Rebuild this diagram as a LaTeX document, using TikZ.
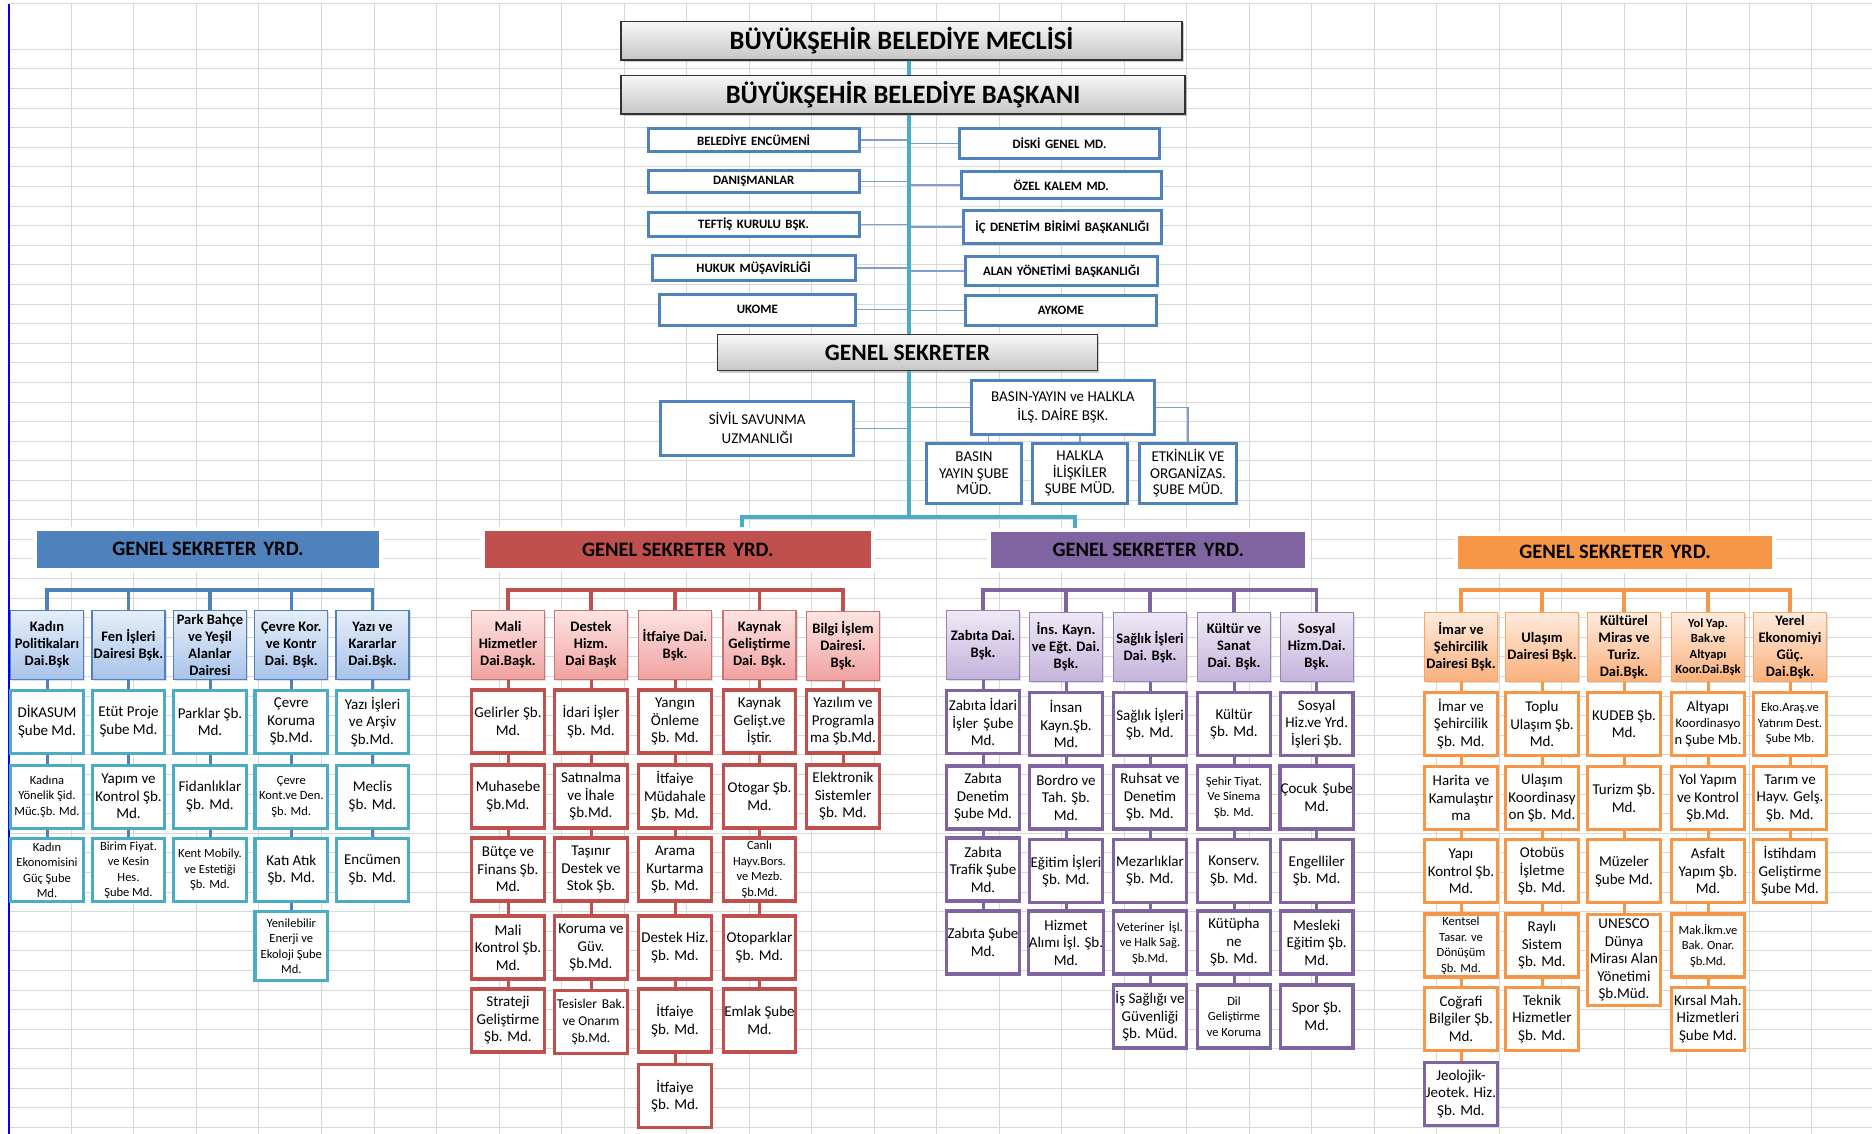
\documentclass[tikz,border=0pt]{standalone}
\usepackage{fontspec}
\setmainfont{Carlito}
\usetikzlibrary{shadows,calc}
\definecolor{cBlue}{HTML}{4F81BD}
\definecolor{cTeal}{HTML}{4BACC6}
\definecolor{cRed}{HTML}{C0504D}
\definecolor{cPur}{HTML}{8064A2}
\definecolor{cOra}{HTML}{F79646}
\definecolor{gridc}{HTML}{D8D8D8}
\definecolor{bTop}{HTML}{E6EEF8}
\definecolor{bBot}{HTML}{A8C3EA}
\definecolor{rTop}{HTML}{FCE4E3}
\definecolor{rBot}{HTML}{F0A2A0}
\definecolor{pTop}{HTML}{EEEAF4}
\definecolor{pBot}{HTML}{C4B2DC}
\definecolor{oTop}{HTML}{FEECDF}
\definecolor{oBot}{HTML}{FAB07C}
\newcommand{\myds}{\hspace{0.35em}}
\begin{document}
\begin{tikzpicture}[x=1pt,y=-1pt,
  gridln/.style={draw=gridc, line width=1pt},
  graybox/.style={draw=black!80, line width=1.3pt, top color=gray!6, bottom color=gray!45, inner sep=0pt, drop shadow={opacity=0.4,shadow xshift=1.5pt,shadow yshift=-2pt}, font=\bfseries\fontsize{26.5}{30}\selectfont},
  topbox/.style={draw=cBlue, line width=3pt, fill=white, inner sep=0pt, font=\bfseries\fontsize{12.8}{14}\selectfont},
  gsbox/.style={draw=cBlue, line width=3pt, fill=white, inner sep=0pt, align=center, font=\fontsize{15}{19}\selectfont},
  gssub/.style={gsbox, minimum height=60pt, font=\fontsize{15}{16.5}\selectfont},
  thinln/.style={draw=cBlue!75, line width=1.1pt},
  trunk/.style={draw=cTeal, line width=4pt},
  hdrbox/.style={fill=#1, draw=white, line width=4pt, inner sep=0pt, font=\bfseries\fontsize{20.5}{22}\selectfont, drop shadow={opacity=0.3,shadow xshift=1pt,shadow yshift=-2pt}},
  headbox/.style n args={3}{draw=#1, line width=1.2pt, top color=#2, bottom color=#3, minimum width=73pt, minimum height=69pt, inner sep=0.5pt, align=center, font=\bfseries\fontsize{14.5}{17}\selectfont, drop shadow={opacity=0.25,shadow xshift=1.5pt,shadow yshift=-1.5pt}},
  bhd/.style={headbox={cBlue}{bTop}{bBot}},
  rhd/.style={headbox={cRed!80}{rTop}{rBot}},
  phd/.style={headbox={cPur!80}{pTop}{pBot}},
  ohd/.style={headbox={cOra!85}{oTop}{oBot}},
  subbox/.style={draw=#1, line width=3.2pt, fill=white, minimum width=72.5pt, minimum height=63pt, inner sep=0.5pt, align=center, font=\fontsize{15}{17.5}\selectfont},
  smalltxt/.style={font=\fontsize{12.5}{15.5}\selectfont},
  brk/.style={draw=#1, line width=3.2pt},
  conn/.style={draw=#1, line width=3pt},
]
\fill[white] (0,0) rectangle (1872,1134);
\useasboundingbox (0,0) rectangle (1872,1134);
% spreadsheet grid
\foreach \x in {71.4,133.8,196.2,258.6,321} \draw[gridln] (\x,4) -- (\x,1134);
\foreach \j in {0,...,24} \draw[gridln] ({374+62.5*\j},4) -- ({374+62.5*\j},1134);
\foreach \k in {0,...,55} \draw[gridln] (9,{49.3+19.6*\k}) -- (1872,{49.3+19.6*\k});
\draw[gridln] (9,4) -- (1872,4);
\draw[blue, line width=2.5pt] (9,4) -- (9,1134);

% coordinates
\coordinate (tx) at (908.5,0);
\coordinate (tj) at (908.5,517);
\coordinate (lj) at (742,517);
\coordinate (rj) at (1075,517);
\coordinate (brkY) at (0,590);

% top
\node[graybox, minimum width=561pt, minimum height=38.5pt] (meclis) at (901.5,40.7) {BÜYÜKŞEHİR BELEDİYE MECLİSİ};
\node[graybox, minimum width=564pt, minimum height=38.5pt] (baskan) at (903,94.7) {BÜYÜKŞEHİR BELEDİYE BAŞKANI};
\node[graybox, minimum width=380pt, minimum height=36pt, font=\bfseries\fontsize{23.5}{26}\selectfont] (gs) at (907.4,352.8) {GENEL SEKRETER};

\node[topbox, minimum width=210.8pt, minimum height=23.6pt] (enc) at (753.6,140) {BELEDİYE\myds ENCÜMENİ};
\node[topbox, minimum width=210.8pt, minimum height=22pt] (dan) at (753.6,181.5) {DANIŞMANLAR};
\node[topbox, minimum width=210.8pt, minimum height=24.3pt] (tef) at (753.6,224.3) {TEFTİŞ\myds KURULU\myds BŞK.};
\node[topbox, minimum width=203pt, minimum height=25pt] (huk) at (753.6,268) {HUKUK\myds MÜŞAVİRLİĞİ};
\node[topbox, minimum width=195.7pt, minimum height=30.7pt] (uko) at (757.3,309.8) {UKOME};
\node[topbox, minimum width=200pt, minimum height=30.3pt] (dis) at (1059.5,143.3) {DİSKİ\myds GENEL\myds MD.};
\node[topbox, minimum width=199.5pt, minimum height=27pt] (oze) at (1061.3,185) {ÖZEL\myds KALEM\myds MD.};
\node[topbox, minimum width=197.5pt, minimum height=33pt] (icd) at (1062.3,227) {İÇ\myds DENETİM\myds BİRİMİ\myds BAŞKANLIĞI};
\node[topbox, minimum width=191.6pt, minimum height=29pt] (ala) at (1061.3,271) {ALAN\myds YÖNETİMİ\myds BAŞKANLIĞI};
\node[topbox, minimum width=190.5pt, minimum height=29.7pt] (ayk) at (1060.8,310.3) {AYKOME};

\node[gsbox, minimum width=193.4pt, minimum height=53.7pt] (siv) at (757.2,428.3) {SİVİL SAVUNMA\\UZMANLIĞI};
\node[gsbox, minimum width=182.8pt, minimum height=53.7pt] (basin) at (1062.9,407.7) {BASIN-YAYIN ve HALKLA\\İLŞ. DAİRE BŞK.};
\node[gssub, minimum width=94.2pt] (bys) at (974,473.5) {BASIN\\YAYIN ŞUBE\\MÜD.};
\node[gssub, minimum width=95pt] (hal) at (1080,473.5) {HALKLA\\İLİŞKİLER\\ŞUBE MÜD.};
\node[gssub, minimum width=97pt] (etk) at (1188,473.5) {ETKİNLİK VE\\ORGANİZAS.\\ŞUBE MÜD.};

% thin connectors
\foreach \n in {enc,dan,tef,huk,uko} \draw[thinln] (\n.east) -- (\n.east -| tx);
\foreach \n in {dis,oze,icd,ala,ayk} \draw[thinln] (\n.west) -- (\n.west -| tx);
\draw[thinln] (siv.east) -- (siv.east -| tx);
\draw[thinln] (basin.west) -- (basin.west -| tx);
\coordinate (bysc) at ($(bys.north)+(14.6,0)$);
\draw[thinln] (bysc) -- (bysc |- basin.south);
\draw[thinln] (hal.north) -- (hal.north |- basin.south);
\draw[thinln] (basin.east) -| (etk.north);

% group headers
\node[hdrbox=cBlue, minimum width=345.4pt, minimum height=40.7pt] (bhdr) at (208,549.3) {GENEL SEKRETER\myds YRD.};
\node[hdrbox=cRed, minimum width=390.3pt, minimum height=40.4pt] (rhdr) at (677.8,549.5) {GENEL SEKRETER\myds YRD.};
\node[hdrbox=cPur, minimum width=318pt, minimum height=39.4pt] (phdr) at (1148.3,550) {GENEL SEKRETER\myds YRD.};
\node[hdrbox=cOra, minimum width=317.4pt, minimum height=37pt] (ohdr) at (1615,552.2) {GENEL SEKRETER\myds YRD.};

% trunk
\draw[trunk] (meclis.south -| tx) -- (baskan.north -| tx);
\draw[trunk] (baskan.south -| tx) -- (gs.north -| tx);
\draw[trunk] (gs.south -| tx) -- (tj);
\draw[trunk] (rhdr.north -| lj) -- (lj) -- (rj) -- (phdr.north -| rj);

% ===== BLUE GROUP =====
\node[bhd] (bh1) at (47,645) {Kadın\\Politikaları\\Dai.Bşk};
\node[bhd] (bh2) at (128.5,645) {Fen İşleri\\Dairesi Bşk.};
\node[bhd] (bh3) at (210,645) {Park Bahçe\\ve Yeşil\\Alanlar\\Dairesi};
\node[bhd] (bh4) at (291.3,645) {Çevre Kor.\\ve Kontr\\Dai. Bşk.};
\node[bhd] (bh5) at (372.5,645) {Yazı ve\\Kararlar\\Dai.Bşk.};

\node[subbox=cTeal] (b11) at (47,721.7) {DİKASUM\\Şube Md.};
\node[subbox=cTeal, smalltxt] (b12) at (47,796.7) {Kadına\\Yönelik Şid.\\Müc.Şb. Md.};
\node[subbox=cTeal, smalltxt] (b13) at (47,870) {Kadın\\Ekonomisini\\Güç Şube\\Md.};
\node[subbox=cTeal] (b21) at (128.5,721.7) {Etüt Proje\\Şube Md.};
\node[subbox=cTeal] (b22) at (128.5,796.7) {Yapım ve\\Kontrol Şb.\\Md.};
\node[subbox=cTeal, smalltxt] (b23) at (128.5,870) {Birim Fiyat.\\ve Kesin\\Hes.\\Şube Md.};
\node[subbox=cTeal] (b31) at (210,721.7) {Parklar Şb.\\Md.};
\node[subbox=cTeal] (b32) at (210,796.7) {Fidanlıklar\\Şb. Md.};
\node[subbox=cTeal, smalltxt] (b33) at (210,870) {Kent Mobily.\\ve Estetiği\\Şb. Md.};
\node[subbox=cTeal] (b41) at (291.3,721.7) {Çevre\\Koruma\\Şb.Md.};
\node[subbox=cTeal, smalltxt] (b42) at (291.3,796.7) {Çevre\\Kont.ve Den.\\Şb. Md.};
\node[subbox=cTeal] (b43) at (291.3,870) {Katı Atık\\Şb. Md.};
\node[subbox=cTeal, smalltxt, minimum height=69pt] (b44) at (291.3,946.3) {Yenilebilir\\Enerji ve\\Ekoloji Şube\\Md.};
\node[subbox=cTeal] (b51) at (372.5,721.7) {Yazı İşleri\\ve Arşiv\\Şb.Md.};
\node[subbox=cTeal] (b52) at (372.5,796.7) {Meclis\\Şb. Md.};
\node[subbox=cTeal] (b53) at (372.5,870) {Encümen\\Şb. Md.};

\draw[brk=cBlue] (bh1.north) -- (bh1.north |- brkY) -- (bh5.north |- brkY) -- (bh5.north);
\foreach \n in {bh2,bh3,bh4} \draw[brk=cBlue] (\n.north) -- (\n.north |- brkY);
\draw[conn=cBlue] (bh1) -- (b11) -- (b12) -- (b13);
\draw[conn=cBlue] (bh2) -- (b21) -- (b22) -- (b23);
\draw[conn=cBlue] (bh3) -- (b31) -- (b32) -- (b33);
\draw[conn=cBlue] (bh4) -- (b41) -- (b42) -- (b43) -- (b44);
\draw[conn=cBlue] (bh5) -- (b51) -- (b52) -- (b53);

% ===== RED GROUP =====
\node[rhd] (rh1) at (508,645) {Mali\\Hizmetler\\Dai.Başk.};
\node[rhd] (rh2) at (591,645) {Destek\\Hizm.\\Dai Başk};
\node[rhd] (rh3) at (675,645) {İtfaiye Dai.\\Bşk.};
\node[rhd] (rh4) at (759.5,645) {Kaynak\\Geliştirme\\Dai. Bşk.};
\node[rhd] (rh5) at (843,646) {Bilgi İşlem\\Dairesi.\\Bşk.};

\node[subbox=cRed] (r11) at (508,721.5) {Gelirler Şb.\\Md.};
\node[subbox=cRed] (r12) at (508,796.5) {Muhasebe\\Şb.Md.};
\node[subbox=cRed] (r13) at (508,869.5) {Bütçe ve\\Finans Şb.\\Md.};
\node[subbox=cRed] (r14) at (508,947.5) {Mali\\Kontrol Şb.\\Md.};
\node[subbox=cRed] (r15) at (508,1020.5) {Strateji\\Geliştirme\\Şb. Md.};
\node[subbox=cRed] (r21) at (591,721.5) {İdari İşler\\Şb. Md.};
\node[subbox=cRed] (r22) at (591,796.5) {Satınalma\\ve İhale\\Şb.Md.};
\node[subbox=cRed] (r23) at (591,869.5) {Taşınır\\Destek ve\\Stok Şb.};
\node[subbox=cRed] (r24) at (591,947.5) {Koruma ve\\Güv.\\Şb.Md.};
\node[subbox=cRed, font=\fontsize{13.5}{17}\selectfont] (r25) at (591,1022) {Tesisler\myds Bak.\\ve Onarım\\Şb.Md.};
\node[subbox=cRed] (r31) at (675,721.5) {Yangın\\Önleme\\Şb. Md.};
\node[subbox=cRed] (r32) at (675,796.5) {İtfaiye\\Müdahale\\Şb. Md.};
\node[subbox=cRed] (r33) at (675,869.5) {Arama\\Kurtarma\\Şb. Md.};
\node[subbox=cRed] (r34) at (675,947.5) {Destek Hiz.\\Şb. Md.};
\node[subbox=cRed] (r35) at (675,1020.5) {İtfaiye\\Şb. Md.};
\node[subbox=cRed] (r36) at (675,1096) {İtfaiye\\Şb. Md.};
\node[subbox=cRed] (r41) at (759.5,721.5) {Kaynak\\Gelişt.ve\\İştir.};
\node[subbox=cRed] (r42) at (759.5,796.5) {Otogar Şb.\\Md.};
\node[subbox=cRed, smalltxt] (r43) at (759.5,869.5) {Canlı\\Hayv.Bors.\\ve Mezb.\\Şb.Md.};
\node[subbox=cRed] (r44) at (759.5,947.5) {Otoparklar\\Şb. Md.};
\node[subbox=cRed] (r45) at (759.5,1020.5) {Emlak Şube\\Md.};
\node[subbox=cRed] (r51) at (843,721.5) {Yazılım ve\\Programla\\ma Şb.Md.};
\node[subbox=cRed] (r52) at (843,796.5) {Elektronik\\Sistemler\\Şb. Md.};

\draw[brk=cRed] (rh1.north) -- (rh1.north |- brkY) -- (rh5.north |- brkY) -- (rh5.north);
\foreach \n in {rh2,rh3,rh4} \draw[brk=cRed] (\n.north) -- (\n.north |- brkY);
\draw[conn=cRed] (rh1) -- (r11) -- (r12) -- (r13) -- (r14) -- (r15);
\draw[conn=cRed] (rh2) -- (r21) -- (r22) -- (r23) -- (r24) -- (r25);
\draw[conn=cRed] (rh3) -- (r31) -- (r32) -- (r33) -- (r34) -- (r35) -- (r36);
\draw[conn=cRed] (rh4) -- (r41) -- (r42) -- (r43) -- (r44) -- (r45);
\draw[conn=cRed] (rh5) -- (r51) -- (r52);

% ===== PURPLE GROUP =====
\node[phd] (ph1) at (983,645) {Zabıta Dai.\\Bşk.};
\node[phd] (ph2) at (1066,647) {İns. Kayn.\\ve Eğt. Dai.\\Bşk.};
\node[phd] (ph3) at (1150,647) {Sağlık İşleri\\Dai. Bşk.};
\node[phd] (ph4) at (1234,647) {Kültür ve\\Sanat\\Dai. Bşk.};
\node[phd] (ph5) at (1316.7,647) {Sosyal\\Hizm.Dai.\\Bşk.};

\node[subbox=cPur] (p11) at (983,722) {Zabıta İdari\\İşler\myds Şube\\Md.};
\node[subbox=cPur] (p12) at (983,797.5) {Zabıta\\Denetim\\Şube Md.};
\node[subbox=cPur] (p13) at (983,869.5) {Zabıta\\Trafik Şube\\Md.};
\node[subbox=cPur] (p14) at (983,942.5) {Zabıta Şube\\Md.};
\node[subbox=cPur] (p21) at (1066,724) {İnsan\\Kayn.Şb.\\Md.};
\node[subbox=cPur] (p22) at (1066,797.5) {Bordro ve\\Tah. Şb.\\Md.};
\node[subbox=cPur] (p23) at (1066,871) {Eğitim İşleri\\Şb. Md.};
\node[subbox=cPur] (p24) at (1066,942.5) {Hizmet\\Alımı İşl. Şb.\\Md.};
\node[subbox=cPur] (p31) at (1150,724) {Sağlık İşleri\\Şb. Md.};
\node[subbox=cPur] (p32) at (1150,797.5) {Ruhsat ve\\Denetim\\Şb. Md.};
\node[subbox=cPur] (p33) at (1150,871) {Mezarlıklar\\Şb. Md.};
\node[subbox=cPur, smalltxt] (p34) at (1150,942.5) {Veteriner\myds İşl.\\ve Halk Sağ.\\Şb.Md.};
\node[subbox=cPur] (p35) at (1150,1016.5) {İş Sağlığı ve\\Güvenliği\\Şb. Müd.};
\node[subbox=cPur] (p41) at (1234,724) {Kültür\\Şb. Md.};
\node[subbox=cPur, smalltxt] (p42) at (1234,797.5) {Şehir Tiyat.\\Ve Sinema\\Şb. Md.};
\node[subbox=cPur] (p43) at (1234,871) {Konserv.\\Şb. Md.};
\node[subbox=cPur] (p44) at (1234,942.5) {Kütüpha\\ne\\Şb. Md.};
\node[subbox=cPur, smalltxt] (p45) at (1234,1016.5) {Dil\\Geliştirme\\ve Koruma};
\node[subbox=cPur] (p51) at (1316.7,724) {Sosyal\\Hiz.ve Yrd.\\İşleri Şb.};
\node[subbox=cPur] (p52) at (1316.7,797.5) {Çocuk\myds Şube\\Md.};
\node[subbox=cPur] (p53) at (1316.7,871) {Engelliler\\Şb. Md.};
\node[subbox=cPur] (p54) at (1316.7,942.5) {Mesleki\\Eğitim Şb.\\Md.};
\node[subbox=cPur] (p55) at (1316.7,1016.5) {Spor Şb.\\Md.};

\draw[brk=cPur] (ph1.north) -- (ph1.north |- brkY) -- (ph5.north |- brkY) -- (ph5.north);
\foreach \n in {ph2,ph3,ph4} \draw[brk=cPur] (\n.north) -- (\n.north |- brkY);
\draw[conn=cPur] (ph1) -- (p11) -- (p12) -- (p13) -- (p14);
\draw[conn=cPur] (ph2) -- (p21) -- (p22) -- (p23) -- (p24);
\draw[conn=cPur] (ph3) -- (p31) -- (p32) -- (p33) -- (p34) -- (p35);
\draw[conn=cPur] (ph4) -- (p41) -- (p42) -- (p43) -- (p44) -- (p45);
\draw[conn=cPur] (ph5) -- (p51) -- (p52) -- (p53) -- (p54) -- (p55);

% ===== ORANGE GROUP =====
\node[ohd] (oh1) at (1461,647) {İmar ve\\Şehircilik\\Dairesi Bşk.};
\node[ohd] (oh2) at (1542,647) {Ulaşım\\Dairesi Bşk.};
\node[ohd] (oh3) at (1624,647) {Kültürel\\Miras ve\\Turiz.\\Dai.Bşk.};
\node[ohd, font=\bfseries\fontsize{12.5}{15.5}\selectfont] (oh4) at (1708,647) {Yol Yap.\\Bak.ve\\Altyapı\\Koor.Dai.Bşk};
\node[ohd] (oh5) at (1790,647) {Yerel\\Ekonomiyi\\Güç.\\Dai.Bşk.};

\node[subbox=cOra] (o11) at (1461,724) {İmar ve\\Şehircilik\\Şb. Md.};
\node[subbox=cOra] (o12) at (1461,798.3) {Harita\myds ve\\Kamulaştır\\ma};
\node[subbox=cOra] (o13) at (1461,871.3) {Yapı\\Kontrol Şb.\\Md.};
\node[subbox=cOra, smalltxt] (o14) at (1461,945.5) {Kentsel\\Tasar. ve\\Dönüşüm\\Şb. Md.};
\node[subbox=cOra] (o15) at (1461,1018.7) {Coğrafi\\Bilgiler Şb.\\Md.};
\node[subbox=cPur] (o16) at (1461,1093.7) {Jeolojik-\\Jeotek. Hiz.\\Şb. Md.};
\node[subbox=cOra] (o21) at (1542,724) {Toplu\\Ulaşım Şb.\\Md.};
\node[subbox=cOra] (o22) at (1542,798.3) {Ulaşım\\Koordinasy\\on Şb. Md.};
\node[subbox=cOra] (o23) at (1542,871.3) {Otobüs\\İşletme\\Şb. Md.};
\node[subbox=cOra] (o24) at (1542,945.5) {Raylı\\Sistem\\Şb. Md.};
\node[subbox=cOra] (o25) at (1542,1018.7) {Teknik\\Hizmetler\\Şb. Md.};
\node[subbox=cOra] (o31) at (1624,724) {KUDEB Şb.\\Md.};
\node[subbox=cOra] (o32) at (1624,798.3) {Turizm Şb.\\Md.};
\node[subbox=cOra] (o33) at (1624,871.3) {Müzeler\\Şube Md.};
\node[subbox=cOra, minimum height=91pt] (o34) at (1624,960) {UNESCO\\Dünya\\Mirası Alan\\Yönetimi\\Şb.Müd.};
\node[subbox=cOra, font=\fontsize{13}{16.5}\selectfont] (o41) at (1708,724) {{\fontsize{15}{16.5}\selectfont Altyapı}\\Koordinasyo\\{\fontsize{14.5}{16.5}\selectfont n Şube Mb.}};
\node[subbox=cOra] (o42) at (1708,798.3) {Yol Yapım\\ve Kontrol\\Şb.Md.};
\node[subbox=cOra] (o43) at (1708,871.3) {Asfalt\\Yapım Şb.\\Md.};
\node[subbox=cOra, smalltxt] (o44) at (1708,945.5) {Mak.İkm.ve\\Bak. Onar.\\Şb.Md.};
\node[subbox=cOra] (o45) at (1708,1018.7) {Kırsal Mah.\\Hizmetleri\\Şube Md.};
\node[subbox=cOra, smalltxt] (o51) at (1790,724) {Eko.Araş.ve\\Yatırım Dest.\\Şube Mb.};
\node[subbox=cOra] (o52) at (1790,798.3) {Tarım ve\\Hayv. Gelş.\\Şb. Md.};
\node[subbox=cOra] (o53) at (1790,871.3) {İstihdam\\Geliştirme\\Şube Md.};

\draw[brk=cOra] (oh1.north) -- (oh1.north |- brkY) -- (oh5.north |- brkY) -- (oh5.north);
\foreach \n in {oh2,oh3,oh4} \draw[brk=cOra] (\n.north) -- (\n.north |- brkY);
\draw[conn=cOra] (oh1) -- (o11) -- (o12) -- (o13) -- (o14) -- (o15) -- (o16);
\draw[conn=cOra] (oh2) -- (o21) -- (o22) -- (o23) -- (o24) -- (o25);
\draw[conn=cOra] (oh3) -- (o31) -- (o32) -- (o33) -- (o34);
\draw[conn=cOra] (oh4) -- (o41) -- (o42) -- (o43) -- (o44) -- (o45);
\draw[conn=cOra] (oh5) -- (o51) -- (o52) -- (o53);
\end{tikzpicture}
\end{document}
